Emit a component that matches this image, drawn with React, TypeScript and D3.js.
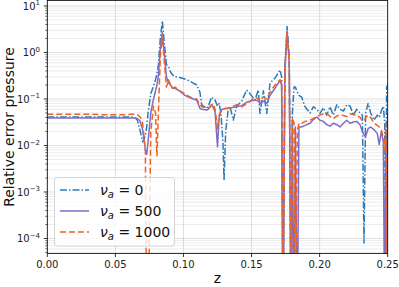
import * as React from 'react';
import * as d3 from 'd3';

// z positions shared by the three series
const zs = [
  0.0, 0.01, 0.02, 0.03, 0.04, 0.05, 0.058, 0.062, 0.064, 0.066,
  0.068, 0.07, 0.072, 0.073, 0.074, 0.076, 0.078, 0.0795, 0.0805, 0.0815,
  0.083, 0.0845, 0.086, 0.0875, 0.089, 0.0905, 0.092, 0.0938, 0.097, 0.1011,
  0.1036, 0.1072, 0.1097, 0.1121, 0.1134, 0.1171, 0.1182, 0.1207, 0.1219, 0.1232,
  0.125, 0.1262, 0.1275, 0.129, 0.1298, 0.131, 0.1329, 0.1342, 0.1366, 0.1391,
  0.1428, 0.1464, 0.1489, 0.1525, 0.155, 0.1562, 0.1587, 0.1612, 0.1636, 0.1672,
  0.1709, 0.1721, 0.1731, 0.1745, 0.1761, 0.1777, 0.179, 0.18, 0.1812, 0.1822,
  0.1836, 0.1848, 0.1868, 0.1893, 0.193, 0.1954, 0.1979, 0.2003, 0.2028, 0.2052,
  0.2076, 0.2101, 0.2126, 0.215, 0.2175, 0.2199, 0.2224, 0.2248, 0.2272, 0.2297,
  0.2314, 0.2326, 0.2338, 0.2356, 0.2375, 0.2399, 0.2424, 0.2438, 0.2453, 0.2468,
  0.2478, 0.2486, 0.2492, 0.25,
];

// relative error, nu_a = 0
const nu0 = [
  0.041, 0.041, 0.041, 0.041, 0.041, 0.041, 0.041, 0.041, 0.04, 0.036,
  0.022, 0.012, 0.016, 0.025, 0.05, 0.13, 0.19, 0.26, 0.35, 0.5,
  2.0, 4.8, 1.5, 0.55, 0.5, 0.38, 0.33, 0.3, 0.29, 0.27,
  0.25, 0.22, 0.2, 0.14, 0.075, 0.063, 0.07, 0.11, 0.1, 0.095,
  0.07, 0.08, 0.05, 0.012, 0.0018, 0.02, 0.06, 0.068, 0.035, 0.07,
  0.09, 0.156, 0.13, 0.095, 0.156, 0.049, 0.15, 0.049, 0.22, 0.28,
  0.42, 0.3, 1e-6, 0.5, 3.6, 0.8, 1e-6, 0.05, 0.18, 0.18,
  0.14, 0.12, 0.11, 0.068, 0.05, 0.068, 0.06, 0.049, 0.065, 0.045,
  0.068, 0.045, 0.075, 0.06, 0.055, 0.075, 0.07, 0.045, 0.06, 0.05,
  0.045, 8e-5, 0.05, 0.08, 0.05, 0.035, 0.045, 0.04, 0.055, 0.07,
  0.03, 1e-6, 0.18, 0.2,
];

// relative error, nu_a = 500
const nu500 = [
  0.039, 0.039, 0.039, 0.039, 0.039, 0.039, 0.039, 0.039, 0.039, 0.038,
  0.034, 0.022, 0.008, 0.0065, 0.012, 0.05, 0.1, 0.15, 0.2, 0.3,
  1.2, 2.7, 0.9, 0.3, 0.22, 0.2, 0.17, 0.17, 0.15, 0.12,
  0.11, 0.1, 0.095, 0.063, 0.06, 0.058, 0.06, 0.075, 0.065, 0.053,
  0.0094, 0.04, 0.058, 0.06, 0.062, 0.063, 0.063, 0.064, 0.066, 0.068,
  0.072, 0.085, 0.09, 0.095, 0.09, 0.08, 0.09, 0.08, 0.12, 0.17,
  0.25, 0.2, 1e-6, 0.4, 2.8, 0.6, 1e-6, 0.03, 1e-6, 0.025,
  1e-6, 0.025, 0.025, 0.027, 0.03, 0.036, 0.041, 0.035, 0.033, 0.028,
  0.026, 0.03, 0.028, 0.025, 0.03, 0.035, 0.03, 0.032, 0.033, 0.028,
  0.02, 0.017, 0.0155, 0.023, 0.025, 0.022, 0.018, 0.0105, 0.02, 0.012,
  1e-6, 0.02, 1e-6, 0.05,
];

// relative error, nu_a = 1000
const nu1000 = [
  0.047, 0.047, 0.047, 0.047, 0.046, 0.046, 0.046, 0.047, 0.047, 0.046,
  0.042, 0.03, 0.008, 1e-6, 1e-6, 0.02, 0.07, 0.05, 0.006, 0.04,
  0.8, 2.3, 0.6, 0.18, 0.26, 0.2, 0.17, 0.18, 0.15, 0.13,
  0.115, 0.103, 0.1, 0.075, 0.068, 0.065, 0.063, 0.075, 0.08, 0.06,
  0.023, 0.045, 0.053, 0.058, 0.06, 0.062, 0.063, 0.065, 0.07, 0.075,
  0.068, 0.08, 0.088, 0.11, 0.1, 0.09, 0.11, 0.1, 0.14, 0.2,
  0.26, 0.22, 1e-6, 0.45, 2.8, 0.6, 1e-6, 0.04, 0.03, 1e-6,
  0.02, 0.03, 0.03, 0.033, 0.035, 0.038, 0.042, 0.045, 0.048, 0.049,
  0.042, 0.038, 0.043, 0.045, 0.044, 0.042, 0.048, 0.046, 0.045, 0.04,
  0.034, 0.033, 0.04, 0.045, 0.04, 0.03, 0.027, 0.025, 0.022, 0.015,
  0.008, 0.03, 1e-6, 0.06,
];

const xTicks = [0, 0.05, 0.1, 0.15, 0.2, 0.25];
const yDecades = [-4, -3, -2, -1, 0, 1];
const legendValues = ['0', '500', '1000'];

const W = 399;
const H = 287;
const plot = { left: 47.3, right: 387.7, top: 0.5, bottom: 253.5 };
const font = 'DejaVu Sans, sans-serif';

const series = [
  { values: nu0, color: '#2a7ab9', dash: '7,2,1.5,2' },
  { values: nu500, color: '#7f6cc4', dash: null },
  { values: nu1000, color: '#f0621f', dash: '6,3' },
];

export default function App() {
  const x = d3.scaleLinear().domain([0, 0.25]).range([plot.left, plot.right]);
  const y = d3.scaleLog().domain([4.76e-5, 13.1]).range([plot.bottom, plot.top]);

  // minor ticks 2..9 x each decade inside the domain
  const minor: number[] = [];
  for (let e = -5; e <= 1; e++) {
    for (let m = 2; m <= 9; m++) {
      const v = m * Math.pow(10, e);
      if (v >= 4.76e-5 && v <= 13.1) minor.push(v);
    }
  }

  const line = d3.line<number>()
    .x((_, i) => x(zs[i]))
    .y(d => y(d));

  const pw = plot.right - plot.left;
  const ph = plot.bottom - plot.top;

  return (
    <svg width={W} height={H} style={{ position: 'absolute', left: 0, top: 0, background: 'white' }}
      fontFamily={font}>
      <defs>
        <clipPath id="plotclip">
          <rect x={plot.left} y={plot.top} width={pw} height={ph} />
        </clipPath>
      </defs>
      <rect x={plot.left} y={plot.top} width={pw} height={ph} fill="white" />

      {/* grid */}
      {minor.map((v, i) => (
        <line key={'mg' + i} x1={plot.left} x2={plot.right} y1={y(v)} y2={y(v)}
          stroke="#b0b0b0" strokeOpacity={0.3} strokeWidth={0.8} />
      ))}
      {yDecades.map(e => (
        <line key={'yg' + e} x1={plot.left} x2={plot.right} y1={y(Math.pow(10, e))} y2={y(Math.pow(10, e))}
          stroke="#b0b0b0" strokeOpacity={0.5} strokeWidth={0.8} />
      ))}
      {xTicks.map(t => (
        <line key={'xg' + t} x1={x(t)} x2={x(t)} y1={plot.top} y2={plot.bottom}
          stroke="#b0b0b0" strokeOpacity={0.5} strokeWidth={0.8} />
      ))}

      {/* series */}
      <g clipPath="url(#plotclip)">
        {series.map((s, i) => (
          <path key={'s' + i} d={line(s.values) || ''} fill="none" stroke={s.color}
            strokeWidth={1.5} strokeDasharray={s.dash || undefined} strokeLinejoin="round" />
        ))}
      </g>

      {/* frame */}
      <rect x={plot.left} y={plot.top} width={pw} height={ph} fill="none" stroke="black" strokeWidth={0.8} />

      {/* x axis */}
      {xTicks.map(t => (
        <g key={'xt' + t}>
          <line x1={x(t)} x2={x(t)} y1={plot.bottom} y2={plot.bottom + 3.5} stroke="black" strokeWidth={0.8} />
          <text x={x(t)} y={plot.bottom + 14} fontSize={10} textAnchor="middle" fill="#222">
            {t.toFixed(2)}
          </text>
        </g>
      ))}
      <text x={(plot.left + plot.right) / 2} y={283} fontSize={14} textAnchor="middle" fill="#111">z</text>

      {/* y axis */}
      {minor.map((v, i) => (
        <line key={'mt' + i} x1={plot.left - 2} x2={plot.left} y1={y(v)} y2={y(v)} stroke="black" strokeWidth={0.6} />
      ))}
      {yDecades.map(e => {
        const ty = y(Math.pow(10, e));
        return (
          <g key={'yt' + e}>
            <line x1={plot.left - 3.5} x2={plot.left} y1={ty} y2={ty} stroke="black" strokeWidth={0.8} />
            <text x={40} y={ty + 3.8} fontSize={10} textAnchor="end" fill="#222">
              <tspan>10</tspan>
              <tspan dy={-4.5} fontSize={7}>{e < 0 ? '\u2212' + Math.abs(e) : String(e)}</tspan>
            </text>
          </g>
        );
      })}
      <text transform={`translate(14,${(plot.top + plot.bottom) / 2}) rotate(-90)`} fontSize={14}
        textAnchor="middle" fill="#111">Relative error pressure</text>

      {/* legend */}
      <g>
        <rect x={54.5} y={177.5} width={120} height={68.5} rx={3} fill="white" fillOpacity={0.8}
          stroke="#cccccc" strokeWidth={0.8} />
        {series.map((s, i) => {
          const ly = 190 + i * 21;
          return (
            <g key={'lg' + i}>
              <line x1={60} x2={89} y1={ly} y2={ly} stroke={s.color} strokeWidth={1.5}
                strokeDasharray={s.dash || undefined} />
              <text x={100} y={ly + 5} fontSize={14} fill="#111">
                <tspan fontStyle="italic">ν</tspan>
                <tspan fontStyle="italic" fontSize={10} dy={3}>a</tspan>
                <tspan dy={-3}>{' = ' + legendValues[i]}</tspan>
              </text>
            </g>
          );
        })}
      </g>
    </svg>
  );
}
